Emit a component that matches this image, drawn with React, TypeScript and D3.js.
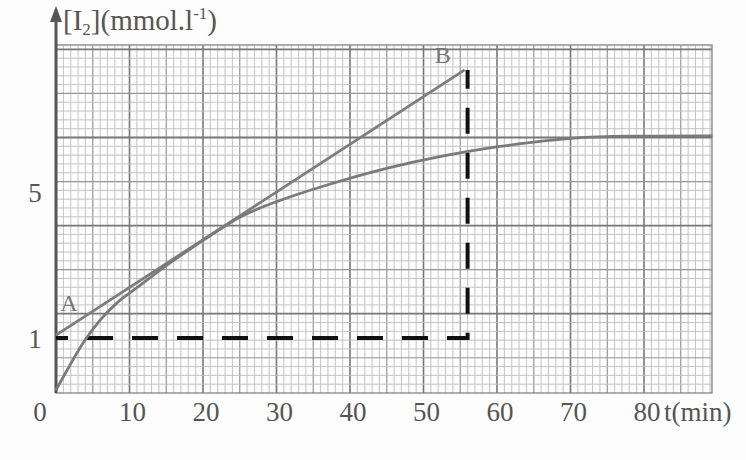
import React from 'react';
import * as d3 from 'd3';

// values
const curveTime = [0, 1.5, 3.7, 6, 8.3, 10.5, 13, 16, 19, 22, 25, 28, 31.8, 38.6, 45.4, 52.2, 56.3, 60.4, 65, 70, 78, 89.3];
const curveIodine = [-0.42, 0.12, 0.87, 1.49, 1.96, 2.3, 2.68, 3.12, 3.53, 3.93, 4.3, 4.57, 4.85, 5.28, 5.65, 5.95, 6.1, 6.23, 6.35, 6.45, 6.51, 6.52];

const tangentTime = [0, 55.6];
const tangentIodine = [1.08, 8.32];

const guideTime = [0, 56, 56];
const guideIodine = [1, 1, 8.32];

const xTicks = [0, 10, 20, 30, 40, 50, 60, 70, 80];
const yTicks = [1, 5];

const W = 746;
const H = 460;

const App = () => {
  const left = 56;
  const right = 712;
  const top = 45;
  const bottom = 393;

  const x = d3.scaleLinear().domain([0, 89.25]).range([left, right]);
  const y = d3.scaleLinear().domain([-0.5, 9]).range([bottom, top]);
  // the paper's own ruling (cm), not tied to the data
  const paperY = d3.scaleLinear().domain([-0.9, 3.05]).range([bottom, top]);

  const line = d3.line<[number, number]>()
    .x(d => x(d[0]))
    .y(d => y(d[1]));

  const smooth = d3.line<[number, number]>()
    .x(d => x(d[0]))
    .y(d => y(d[1]))
    .curve(d3.curveMonotoneX);

  const curvePts = curveTime.map((t, i) => [t, curveIodine[i]] as [number, number]);
  const tangentPts = tangentTime.map((t, i) => [t, tangentIodine[i]] as [number, number]);
  const guidePts = guideTime.map((t, i) => [t, guideIodine[i]] as [number, number]);

  const vLines = d3.range(1, 90, 1);
  const hLines = d3.range(-0.8, 3.05, 0.1).map(v => Math.round(v * 10) / 10);

  const gridStroke = (major: boolean, mid: boolean) =>
    major ? '#777' : mid ? '#969696' : '#bdbdbd';

  const font = '"Liberation Serif", "DejaVu Serif", serif';

  return (
    <svg width={W} height={H} style={{ position: 'absolute', left: 0, top: 0, background: '#fdfdfd' }}>
      <g>
        {vLines.map(v => {
          const major = v % 10 === 0;
          const mid = v % 5 === 0;
          return (
            <line key={'v' + v} x1={x(v)} x2={x(v)} y1={top} y2={bottom}
              stroke={gridStroke(major, mid)} strokeWidth={major ? 1.6 : mid ? 1.2 : 0.9} />
          );
        })}
        {hLines.map(v => {
          const k = Math.round(v * 10);
          const major = k % 10 === 0;
          const mid = k % 5 === 0;
          return (
            <line key={'h' + k} x1={left} x2={right} y1={paperY(v)} y2={paperY(v)}
              stroke={gridStroke(major, mid)} strokeWidth={major ? 1.8 : mid ? 1.2 : 0.9} />
          );
        })}
        <rect x={left} y={top} width={right - left} height={bottom - top}
          fill="none" stroke="#8a8a8a" strokeWidth={1.4} />
      </g>

      {/* y axis with arrow */}
      <line x1={left} x2={left} y1={bottom} y2={16} stroke="#555" strokeWidth={3} />
      <path d={`M${left - 6},${22} L${left},${6} L${left + 6},${22} Z`} fill="#555" />

      {/* dashed guide lines */}
      <path d={line(guidePts) || ''} fill="none" stroke="#111" strokeWidth={4}
        strokeDasharray="26,19" strokeDashoffset={14} />

      {/* tangent AB */}
      <path d={line(tangentPts) || ''} fill="none" stroke="#7d7d7d" strokeWidth={2.8} />

      {/* concentration curve */}
      <path d={smooth(curvePts) || ''} fill="none" stroke="#7a7a7a" strokeWidth={2.8} />

      <text x={x(tangentTime[0]) + 13} y={y(tangentIodine[0]) - 24} fontFamily={font} fontSize={24}
        fill="#777" textAnchor="middle">A</text>
      <text x={x(tangentTime[1]) - 22} y={y(tangentIodine[1]) - 7} fontFamily={font} fontSize={24}
        fill="#777" textAnchor="middle">B</text>

      {xTicks.map(t => (
        <text key={'xt' + t} x={t === 0 ? x(t) - 16 : x(t) + 3} y={421} fontFamily={font} fontSize={27}
          fill="#555" textAnchor="middle">{t}</text>
      ))}
      <text x={x(80) + 20} y={421} fontFamily={font} fontSize={27} fill="#555">t(min)</text>

      {yTicks.map(v => (
        <text key={'yt' + v} x={35} y={y(v) + 10} fontFamily={font} fontSize={27}
          fill="#555" textAnchor="middle">{v}</text>
      ))}

      <text x={63} y={30} fontFamily={font} fontSize={29} fill="#555">
        [I<tspan fontSize={17} dy={5}>2</tspan><tspan dy={-5}>](mmol.l</tspan>
        <tspan fontSize={17} dy={-11}>-1</tspan><tspan dy={11}>)</tspan>
      </text>
    </svg>
  );
};

export default App;
